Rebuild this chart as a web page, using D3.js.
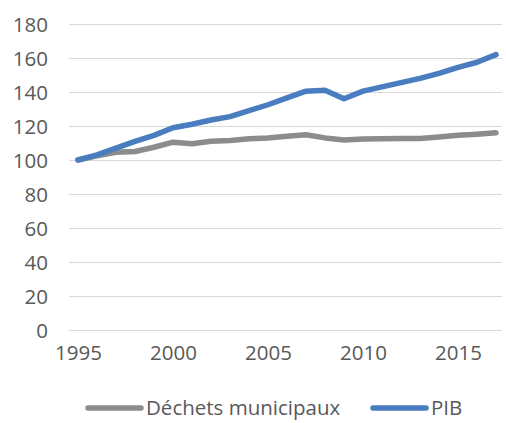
<!DOCTYPE html>
<html>
<head>
<meta charset="utf-8">
<script src="https://cdn.jsdelivr.net/npm/d3@7"></script>
<style>
  body { margin: 0; background: #fff; }
  text { font-family: "Open Sans", sans-serif; fill: #595959; }
</style>
</head>
<body>
<script>
// values (index 1995 = 100)
const years = d3.range(1995, 2018);
const dechets = [100, 102.5, 104.5, 105, 107.5, 110.5, 109.5, 111, 111.5, 112.5, 113, 114, 114.8, 113, 111.8, 112.3, 112.5, 112.6, 112.7, 113.5, 114.5, 115.2, 116];
const pib = [100, 103, 107, 111, 114.5, 119, 121, 123.5, 125.5, 129, 132.5, 136.5, 140.5, 141, 136, 140.5, 143, 145.5, 148, 151, 154.5, 157.5, 162];
const yTicks = [0, 20, 40, 60, 80, 100, 120, 140, 160, 180];
const xTicks = [1995, 2000, 2005, 2010, 2015];

const w = 506;
const h = 423;
const fontSize = 20.5;

const xScale = d3.scaleLinear()
  .domain([1995, 2017])
  .range([78, 496]);

const yScale = d3.scaleLinear()
  .domain([0, 180])
  .range([330, 24]);

const svg = d3.select("body")
  .append("svg")
  .attr("width", w)
  .attr("height", h);

// gridlines
svg.append("g")
  .selectAll("line")
  .data(yTicks)
  .enter()
  .append("line")
  .attr("x1", 69)
  .attr("x2", 502)
  .attr("y1", (d) => yScale(d) + 0.5)
  .attr("y2", (d) => yScale(d) + 0.5)
  .attr("stroke", "#d9d9d9")
  .attr("stroke-width", 1);

const yAxis = d3.axisLeft(yScale)
  .tickValues(yTicks)
  .tickSize(0)
  .tickPadding(0);

svg.append("g")
  .attr("transform", "translate(48,0)")
  .call(yAxis)
  .call((g) => g.select(".domain").remove())
  .selectAll("text")
  .attr("font-size", fontSize)
  .attr("dy", "0.35em")
  .style("fill", "#595959");

const xAxis = d3.axisBottom(xScale)
  .tickValues(xTicks)
  .tickFormat(d3.format("d"))
  .tickSize(0)
  .tickPadding(0);

svg.append("g")
  .attr("transform", "translate(0,353)")
  .call(xAxis)
  .call((g) => g.select(".domain").remove())
  .selectAll("text")
  .attr("font-size", fontSize)
  .attr("dy", "0.35em")
  .style("fill", "#595959");

const line = d3.line()
  .x((d, i) => xScale(years[i]))
  .y((d) => yScale(d));

const series = [
  { name: "Déchets municipaux", values: dechets, color: "#8c8c8c" },
  { name: "PIB", values: pib, color: "#4a7dc0" }
];

svg.selectAll("path.serie")
  .data(series)
  .enter()
  .append("path")
  .attr("class", "serie")
  .attr("d", (d) => line(d.values))
  .attr("fill", "none")
  .attr("stroke", (d) => d.color)
  .attr("stroke-width", 5.5)
  .attr("stroke-linecap", "round")
  .attr("stroke-linejoin", "round");

// legend
const legendX = [88, 373];
const leg = svg.selectAll("g.legend")
  .data(series)
  .enter()
  .append("g")
  .attr("class", "legend")
  .attr("transform", (d, i) => "translate(" + legendX[i] + ",408)");

leg.append("line")
  .attr("x1", 0)
  .attr("x2", 53)
  .attr("stroke", (d) => d.color)
  .attr("stroke-width", 5.5)
  .attr("stroke-linecap", "round");

leg.append("text")
  .attr("x", 58)
  .attr("dy", "0.35em")
  .attr("font-size", fontSize)
  .text((d) => d.name);
</script>
</body>
</html>
